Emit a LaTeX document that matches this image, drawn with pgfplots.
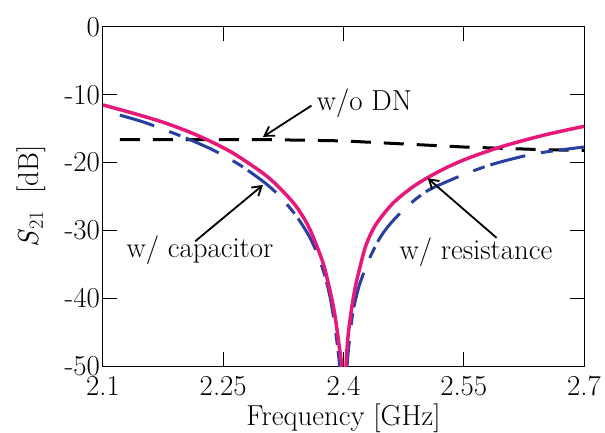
\documentclass[border=0pt]{standalone}
\usepackage{pgfplots}
\pgfplotsset{compat=1.18}
\usepackage{fontspec}
\usetikzlibrary{arrows.meta}
\definecolor{pinkc}{RGB}{230,24,122}
\definecolor{bluec}{RGB}{40,62,160}
\newcommand{\bigfont}{\fontsize{29}{34}\selectfont}
\begin{document}
\begin{tikzpicture}[font=\bigfont]
\path[use as bounding box] (-103bp,-67bp) rectangle (502bp,366bp);
\begin{axis}[
  at={(0,0)}, anchor=south west,
  scale only axis, width=481bp, height=339bp,
  xmin=2.1, xmax=2.7, ymin=-50, ymax=0,
  xtick={2.1,2.25,2.4,2.55,2.7},
  xticklabels={2.1,2.25,2.4,2.55,2.7},
  ytick={-50,-40,-30,-20,-10,0},
  yticklabels={-50,-40,-30,-20,-10,0},
  tick align=inside, tick pos=both,
  major tick length=14bp,
  axis line style={line width=1bp},
  every tick/.style={black, line width=1bp},
  tick label style={font=\bigfont},
  xticklabel style={anchor=base, inner sep=0pt, yshift=-29bp},
  yticklabel style={anchor=east, inner sep=0pt, xshift=-3bp},
  xlabel={Frequency [GHz]},
  xlabel style={at={(axis description cs:0.5,0)}, anchor=base, yshift=-59bp, inner sep=0pt},
  ylabel={\textit{S}\textsubscript{21}\ \ [dB]},
  ylabel style={at={(axis description cs:-0.1351,0.5)}, anchor=base, inner sep=0pt},
  label style={font=\bigfont},
  clip=true,
]
% w/o DN
\addplot[black, line width=3bp, dash pattern=on 20bp off 13bp] coordinates {
(2.121,-16.6) (2.20,-16.6) (2.30,-16.6) (2.40,-16.8) (2.45,-17.1) (2.50,-17.4)
(2.55,-17.7) (2.60,-17.9) (2.65,-18.1) (2.70,-18.2)};
% w/ capacitor (blue dashed)
\addplot[bluec, line width=3bp, dash pattern=on 36bp off 16bp on 12bp off 6bp, smooth, tension=0.5] coordinates {
(2.121,-13.0) (2.15,-14.0) (2.18,-15.3) (2.21,-16.7) (2.24,-18.3) (2.27,-20.3)
(2.30,-22.8) (2.32,-24.9) (2.34,-27.7) (2.355,-30.4) (2.365,-32.8) (2.375,-36.0)
(2.383,-39.7) (2.389,-43.9) (2.394,-48.6) (2.3965,-52) (2.400,-60)
(2.4044,-50.1) (2.408,-45.6) (2.412,-41.9) (2.42,-38.0) (2.433,-34.0) (2.446,-31.0)
(2.46,-28.8) (2.48,-26.4) (2.504,-24.2) (2.533,-22.6) (2.56,-21.3) (2.59,-20.1)
(2.63,-18.9) (2.66,-18.3) (2.70,-17.7)};
% w/ resistance (pink solid)
\addplot[pinkc, line width=3.5bp, smooth, tension=0.5] coordinates {
(2.10,-11.5) (2.14,-12.8) (2.18,-14.25) (2.22,-16.1) (2.26,-18.45) (2.30,-21.6)
(2.32,-23.7) (2.34,-26.3) (2.355,-29.1) (2.365,-31.8) (2.375,-35.0) (2.383,-38.8)
(2.389,-42.3) (2.394,-46.5) (2.398,-50.5) (2.4006,-58)
(2.4031,-50.1) (2.4056,-45.7) (2.410,-41.6) (2.415,-38.2) (2.420,-35.7) (2.428,-32.2)
(2.44,-29.2) (2.46,-26.2) (2.48,-24.15) (2.50,-22.55) (2.53,-20.65) (2.56,-19.15)
(2.60,-17.55) (2.65,-15.95) (2.70,-14.65)};
% annotations
\node[anchor=west, inner sep=0pt] at (axis cs:2.3665,-11.2) {w/o DN};
\draw[line width=1.8bp, -{Straight Barb[length=9bp,width=11bp]}] (axis cs:2.360,-11.6) -- (axis cs:2.2996,-16.2);
\node[anchor=center, inner sep=0pt] at (axis cs:2.221,-32.9) {w/ capacitor};
\draw[line width=1.8bp, -{Straight Barb[length=9bp,width=11bp]}] (axis cs:2.215,-31.6) -- (axis cs:2.2996,-23.3);
\node[anchor=center, inner sep=0pt] at (axis cs:2.5653,-33.3) {w/ resistance};
\draw[line width=1.8bp, -{Straight Barb[length=9bp,width=11bp]}] (axis cs:2.591,-31.1) -- (axis cs:2.505,-22.3);
\end{axis}
\end{tikzpicture}
\end{document}
